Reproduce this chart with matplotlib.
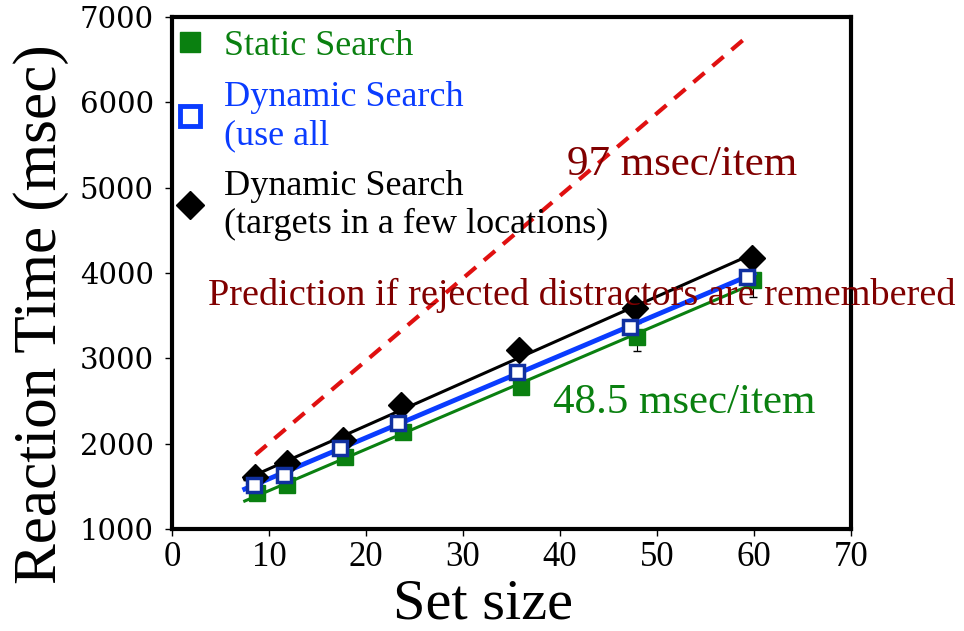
import numpy as np
import matplotlib
matplotlib.use("Agg")
import matplotlib.pyplot as plt
from matplotlib.lines import Line2D

# set sizes (markers are slightly offset per series)
static_x = [8.8, 11.9, 17.8, 23.8, 36.0, 47.9, 59.9]
static_rt = [1420, 1515, 1845, 2135, 2665, 3250, 3920]
static_err = [30, 30, 40, 50, 60, 160, 200]

dyn_all_x = [8.5, 11.5, 17.3, 23.3, 35.6, 47.2, 59.3]
dyn_all_rt = [1515, 1635, 1950, 2240, 2840, 3365, 3955]

dyn_few_x = [8.6, 11.9, 17.6, 23.6, 35.8, 47.7, 59.8]
dyn_few_rt = [1610, 1775, 2045, 2455, 3100, 3590, 4175]

# prediction if rejected distractors are remembered (97 msec/item)
pred_x = [8.6, 59.6]
pred_rt = [1870, 6800]

fit_range = [7.5, 60.0]

xticks = [0, 10, 20, 30, 40, 50, 60, 70]
yticks = [1000, 2000, 3000, 4000, 5000, 6000, 7000]

plt.rcParams['font.family'] = ['Liberation Serif', 'DejaVu Serif']

fig = plt.figure(figsize=(9.64, 6.31), dpi=100)
ax = fig.add_axes([0.1784, 0.1617, 0.7044, 0.8114])

green = '#0a8010'
blue = '#0a3cff'
navy = '#1030a0'
dark_red = '#800000'

def fit_line(x, y):
    k, b = np.polyfit(x, y, 1)
    xs = np.array(fit_range)
    return xs, k * xs + b

# regression lines
xs, ys = fit_line(static_x, static_rt)
ax.plot(xs, ys, color=green, lw=2.2, zorder=2)
xs, ys = fit_line(dyn_few_x, dyn_few_rt)
ax.plot(xs, ys, color='black', lw=2.2, zorder=3)
xs, ys = fit_line(dyn_all_x, dyn_all_rt)
ax.plot(xs, ys, color=blue, lw=3.5, zorder=4)

# prediction line
ax.plot(pred_x, pred_rt, color='#e01010', lw=3, ls=(0, (3.5, 2.5)), zorder=2)

# data points
ax.errorbar(static_x, static_rt, yerr=static_err, fmt='none', ecolor='black',
            elinewidth=0.8, capsize=3, zorder=1)
ax.plot(static_x, static_rt, 's', color=green, ms=12, zorder=3)
ax.plot(dyn_few_x, dyn_few_rt, 'D', color='black', ms=13, zorder=4)
ax.plot(dyn_all_x, dyn_all_rt, 's', mfc='white', mec=navy, mew=2.5, ms=10, zorder=5)

# annotations
ax.text(52.6, 5270, '97 msec/item', color=dark_red, fontsize=31, ha='center', va='center')
ax.text(42.2, 3740, 'Prediction if rejected distractors are remembered', color=dark_red,
        fontsize=27.5, ha='center', va='center', zorder=6, clip_on=False)
ax.text(52.8, 2480, '48.5 msec/item', color=green, fontsize=31, ha='center', va='center')

# legend
handles = [
    Line2D([], [], ls='none', marker='s', color=green, ms=15),
    Line2D([], [], ls='none', marker='s', mfc='white', mec=blue, mew=3.5, ms=14),
    Line2D([], [], ls='none', marker='D', color='black', ms=14),
]
labels = ['Static Search', 'Dynamic Search\n(use all', 'Dynamic Search\n(targets in a few locations)']
ax.legend(handles, labels, loc='upper left', bbox_to_anchor=(0.0, 0.986), frameon=False,
          fontsize=26, labelcolor=[green, blue, 'black'], handlelength=0.7,
          handletextpad=0.6, borderaxespad=0.15, borderpad=0.0, labelspacing=0.5)

ax.set_xlim(0, 70)
ax.set_ylim(1000, 7000)
ax.set_xticks(xticks)
ax.set_yticks(yticks)
ax.tick_params(direction='out', length=5, width=1)
ax.tick_params(axis='y', pad=8)
for lab in ax.get_xticklabels():
    lab.set_fontsize(25)
for lab in ax.get_yticklabels():
    lab.set_fontsize(21)
    lab.set_family('DejaVu Serif')

for s in ax.spines.values():
    s.set_linewidth(3)

ax.set_xlabel('Set size', fontsize=42)
ax.set_ylabel('Reaction Time (msec)', fontsize=44)
ax.xaxis.set_label_coords(0.458, -0.097)
ax.yaxis.set_label_coords(-0.152, 0.42)

fig.savefig('out.png', dpi=100)
